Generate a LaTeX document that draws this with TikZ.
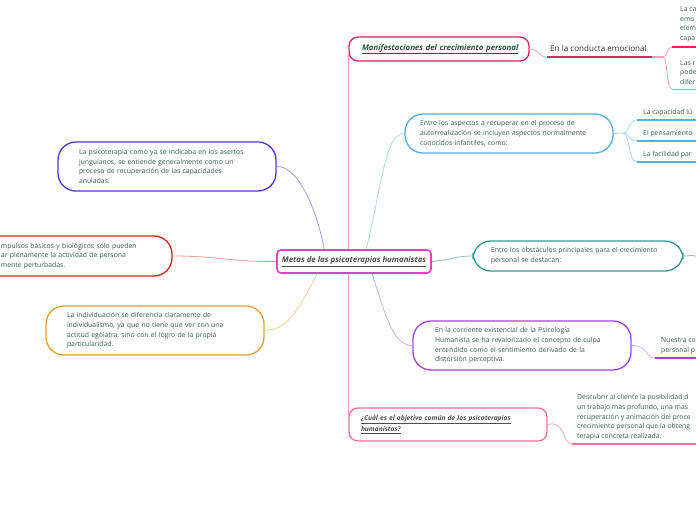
\documentclass[tikz,border=0pt]{standalone}
\usepackage{fontspec}
\setmainfont{Open Sans}
\usetikzlibrary{positioning}

\definecolor{bodytext}{HTML}{3D5A4F}
\definecolor{darkgreen}{HTML}{1E5A3C}
\definecolor{hubc}{HTML}{E040C8}
\definecolor{crimson}{HTML}{E0245E}
\definecolor{lightpink}{HTML}{F3A0BF}
\definecolor{skyc}{HTML}{4FB3E8}
\definecolor{skylight}{HTML}{A8DAF4}
\definecolor{tealc}{HTML}{2F9A90}
\definecolor{purplec}{HTML}{A040F0}
\definecolor{purplelight}{HTML}{D7A8F4}
\definecolor{violetc}{HTML}{5533DD}
\definecolor{violetlight}{HTML}{A898F0}
\definecolor{redc}{HTML}{E02020}
\definecolor{redlight}{HTML}{F29A9A}
\definecolor{orangec}{HTML}{E8A030}
\definecolor{orangelight}{HTML}{F6CC94}
\definecolor{rosec}{HTML}{F06FA0}

\tikzset{
  txt/.style={font=\fontsize{6.85}{9.7}\selectfont, text=bodytext, align=left, inner sep=0pt},
  topicbox/.style={txt, draw, line width=1.3pt, rounded corners=18pt, fill=white, inner ysep=0pt},
  titlebox/.style={draw, line width=1.3pt, rounded corners=9pt, fill=white, inner ysep=0pt, align=left,
    font=\fontsize{7.85}{9.7}\selectfont\bfseries\itshape},
  link/.style={line width=0.8pt},
  bar/.style={line width=1.6pt}
}

\begin{document}
\begin{tikzpicture}[x=1pt,y=-1pt]
\useasboundingbox (0,0) rectangle (696,520);
\clip (0,0) rectangle (696,520);

% main topics
\node[titlebox, draw=hubc, line width=1.6pt, rounded corners=4pt, minimum width=154pt, minimum height=23pt, text=black!70]
  (metas) at (354,261.5) {\underline{Metas de las psicoterapias humanistas}};

\node[titlebox, draw=crimson, minimum width=180pt, minimum height=24pt, text width=160pt, inner xsep=10pt, text=darkgreen]
  (manif) at (439,49) {\hspace*{3pt}\underline{Manifestaciones del crecimiento personal}};

\node[titlebox, draw=rosec, minimum width=198pt, minimum height=33pt, text width=174pt, inner xsep=12pt, text=black!70,
  font=\fontsize{6.6}{11}\selectfont\bfseries\itshape]
  (cual) at (448,424.5) {\underline{¿Cuál es el objetivo común de las psicoterapias}\\\underline{humanistas?}};

\node[topicbox, draw=violetc, minimum height=49pt, text width=176pt, inner xsep=21pt]
  (jung) at (167,166.5) {La psicoterapia como ya se indicaba en los asertos\\junguianos, se entiende generalmente como un\\proceso de recuperación de las capacidades\\anuladas.};

\node[topicbox, draw=redc, minimum height=40pt, text width=150pt, inner xsep=21pt]
  (impulsos) at (76,256) {mpulsos básicos y biológicos solo pueden\\ar plenamente la actividad de persona\\mente perturbadas.};

\node[topicbox, draw=orangec, minimum height=49pt, text width=176pt, inner xsep=21pt]
  (indiv) at (155,330.5) {La individuación se diferencia claramente de\\individualismo, ya que no tiene que ver con una\\actitud ególatra, sino con el logro de la propia\\particularidad.};

\node[topicbox, draw=skyc, minimum height=39pt, text width=178pt, inner xsep=15pt]
  (aspectos) at (509,133.5) {Entre los aspectos a recuperar en el proceso de\\autorrealización se incluyen aspectos normalmente\\conocidos infantiles, como:};

\node[topicbox, draw=tealc, minimum height=30pt, text width=178pt, inner xsep=16pt]
  (obstaculos) at (578,256) {\hspace*{2pt}Entre los obstáculos principales para el crecimiento\\\hspace*{2pt}personal se destacan:};

\node[topicbox, draw=purplec, minimum height=49pt, text width=178pt, inner xsep=20pt]
  (culpa) at (522,345.5) {\hspace*{2pt}En la corriente existencial de la Psicología\\\hspace*{2pt}Humanista se ha revalorizado el concepto de culpa\\\hspace*{2pt}entendido como el sentimiento derivado de la\\\hspace*{2pt}distorsión perceptiva.};

% sub topics
\node[txt, anchor=west, font=\fontsize{8.1}{9.7}\selectfont, text=black!80] (conducta) at (550,48) {En la conducta emocional};
\node[txt, anchor=west] (capa) at (680,24.5) {La ca\\emo\\elem\\capa};
\node[txt, anchor=west] (difer) at (680,72.5) {Las r\\pode\\difer};
\node[txt, anchor=west] (ludica) at (643,113) {La capacidad lú};
\node[txt, anchor=west] (pensam) at (643,134) {El pensamiento};
\node[txt, anchor=west] (facil) at (643,154.5) {La facilidad par};
\node[txt, anchor=west] (nuestra) at (661,346) {Nuestra co\\personal p};
\node[txt, anchor=west] (descubrir) at (577,417.5) {Descubrir al cliente la posibilidad d\\un trabajo mas profundo, una mas\\recuperación y animación del proce\\crecimiento personal que la obteng\\terapia concreta realizada.};

\coordinate (condA) at (547,57);
\coordinate (condB) at (652,57);
\coordinate (condC) at (663,57);
\coordinate (capaA) at (672,47);
\coordinate (diferA) at (672,89);
\coordinate (aspFork) at (623,133);
\coordinate (ludA) at (637,120);
\coordinate (penA) at (637,141);
\coordinate (facA) at (637,162);
\coordinate (nuesA) at (655,358);
\coordinate (descA) at (572,444);
\coordinate (edge) at (696,0);

% links from the hub
\draw[link, lightpink] (metas.north -| manif.west) -- (manif.west);
\draw[link, lightpink] (metas.south -| cual.west) -- (cual.west);
\draw[link, violetlight] (metas.north west) ++(48,0) .. controls (318,215) and (300,166) .. (jung.east);
\draw[link, redlight] (metas.west) .. controls (230,262) and (220,256) .. (impulsos.east);
\draw[link, orangelight] (metas.south west) ++(41,0) .. controls (300,305) and (290,330) .. (indiv.east);
\draw[link, skylight] (metas.north west) ++(90,0) .. controls (382,185) and (385,133) .. (aspectos.west);
\draw[link, tealc!60] (metas.east) .. controls (450,260) and (455,256) .. (obstaculos.west);
\draw[link, purplelight] (metas.south west) ++(96,0) .. controls (388,325) and (395,345) .. (culpa.west);

% sub links
\draw[link, lightpink] (manif.east) .. controls (540,49) and (538,57) .. (condA);
\draw[bar, crimson] (condA) -- (condB);
\draw[bar, lightpink] (condB) -- (condC);
\draw[link, lightpink] (condC) .. controls (668,57) and (666,47) .. (capaA);
\draw[link, lightpink] (condC) .. controls (668,57) and (666,89) .. (diferA);
\draw[bar, crimson] (capaA) -- (capaA -| edge);
\draw[link, lightpink] (diferA) -- (diferA -| edge);

\draw[link, skylight] (aspectos.east) -- (aspFork);
\foreach \leaf in {ludA,penA,facA}{
  \draw[link, skylight] (aspFork) .. controls (630,133) and (628,0 |- \leaf) .. (\leaf);
  \draw[bar, skyc] (\leaf) -- (\leaf -| edge);
}

\draw[link, tealc!60] (obstaculos.east) .. controls (690,256) and (690,255) .. (obstaculos.east -| edge);

\draw[link, purplelight] (culpa.east) .. controls (648,345) and (645,358) .. (nuesA);
\draw[bar, purplec] (nuesA) -- (nuesA -| edge);

\draw[link, lightpink] (cual.east) .. controls (566,420) and (562,444) .. (descA);
\draw[bar, rosec] (descA) -- (descA -| edge);
\end{tikzpicture}
\end{document}
